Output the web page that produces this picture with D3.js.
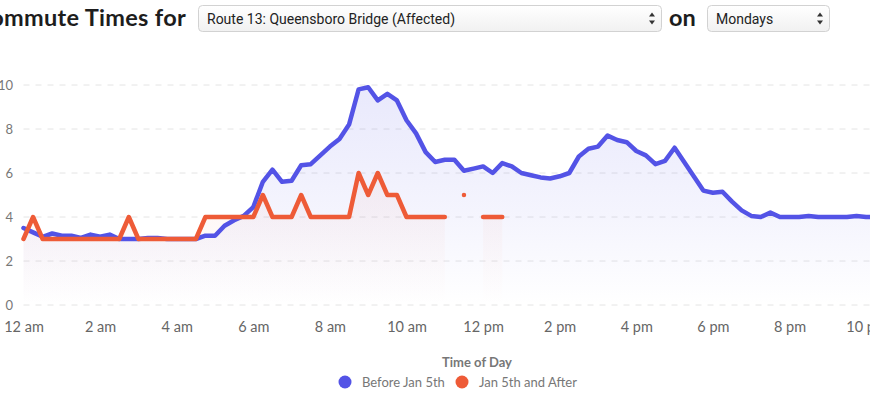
<!DOCTYPE html>
<html>
<head>
<meta charset="utf-8">
<script src="https://cdn.jsdelivr.net/npm/d3@7"></script>
<style>
  body { margin: 0; background: #fff; }
  svg { display: block; font-family: "Lato", "Open Sans", sans-serif; }
</style>
</head>
<body>
<div id="chart"></div>
<script>
// times are in quarter hours from midnight (0 .. 95)
const quarter_hours = d3.range(0, 96);

const before_values = [
  3.5, 3.3, 3.1, 3.25, 3.15, 3.15, 3.05, 3.2, 3.1, 3.2, 3.0, 3.0,
  3.0, 3.05, 3.05, 3.0, 3.0, 3.0, 3.0, 3.15, 3.15, 3.6, 3.85, 4.05,
  4.45, 5.6, 6.15, 5.6, 5.65, 6.35, 6.4, 6.8, 7.2, 7.55, 8.2, 9.8,
  9.9, 9.3, 9.6, 9.3, 8.4, 7.8, 6.95, 6.5, 6.6, 6.6, 6.1, 6.2,
  6.3, 6.0, 6.45, 6.3, 6.0, 5.9, 5.8, 5.75, 5.85, 6.0, 6.75, 7.1,
  7.2, 7.7, 7.5, 7.4, 7.0, 6.8, 6.4, 6.55, 7.15, 6.5, 5.85, 5.2,
  5.1, 5.15, 4.7, 4.3, 4.05, 4.0, 4.2, 4.0, 4.0, 4.0, 4.05, 4.0,
  4.0, 4.0, 4.0, 4.05, 4.0, 4.0, 4.0, 4.0, 4.0, 4.0, 4.0, 4.0
];

// null = no trips recorded in that quarter hour
const after_values = [
  3, 4, 3, 3, 3, 3, 3, 3, 3, 3, 3, 4,
  3, 3, 3, 3, 3, 3, 3, 4, 4, 4, 4, 4,
  4, 5, 4, 4, 4, 5, 4, 4, 4, 4, 4, 6,
  5, 6, 5, 5, 4, 4, 4, 4, 4, null, 5, null,
  4, 4, 4, null, null, null, null, null, null, null, null, null,
  null, null, null, null, null, null, null, null, null, null, null, null,
  null, null, null, null, null, null, null, null, null, null, null, null,
  null, null, null, null, null, null, null, null, null, null, null, null
];

const y_ticks = [0, 2, 4, 6, 8, 10];
const x_tick_hours = [0, 2, 4, 6, 8, 10, 12, 14, 16, 18, 20, 22];
const x_tick_labels = ["12 am", "2 am", "4 am", "6 am", "8 am", "10 am",
                       "12 pm", "2 pm", "4 pm", "6 pm", "8 pm", "10 pm"];

const route_options = ["Route 13: Queensboro Bridge (Affected)"];
const day_options = ["Mondays"];
const series_names = ["Before Jan 5th", "Jan 5th and After"];
const series_colors = ["#5353e6", "#ee5b37"];

const width = 870, height = 400;

let svg = d3.select("#chart").append("svg")
  .attr("width", width)
  .attr("height", height);

// header: title with two fake select boxes
function draw_select(x, w, label) {
  let g = svg.append("g").attr("transform", "translate(" + x + ",5)");
  g.append("rect")
    .attr("x", 0.5).attr("y", 0.5)
    .attr("width", w).attr("height", 26)
    .attr("rx", 4)
    .attr("fill", "url(#select_fill)")
    .attr("stroke", "#d2d2d2");
  g.append("text")
    .attr("x", 9).attr("y", 18.5)
    .attr("font-family", "'Liberation Sans Narrow', 'Roboto', sans-serif")
    .attr("font-size", 14)
    .attr("fill", "#222")
    .text(label);
  let ax = w - 9;
  g.append("path")
    .attr("d", "M" + (ax - 3) + ",11.5L" + ax + ",7.5L" + (ax + 3) + ",11.5Z" +
               "M" + (ax - 3) + ",15.5L" + ax + ",19.5L" + (ax + 3) + ",15.5Z")
    .attr("fill", "#333");
}

let defs = svg.append("defs");
let select_fill = defs.append("linearGradient")
  .attr("id", "select_fill").attr("x1", 0).attr("y1", 0).attr("x2", 0).attr("y2", 1);
select_fill.append("stop").attr("offset", 0).attr("stop-color", "#ffffff");
select_fill.append("stop").attr("offset", 1).attr("stop-color", "#f1f1f1");

const area_opacity = [[0.13, 0.06], [0.09, 0.04]];
series_colors.forEach((color, i) => {
  let grad = defs.append("linearGradient")
    .attr("id", "area_fill_" + i)
    .attr("gradientUnits", "userSpaceOnUse")
    .attr("x1", 0).attr("y1", 85).attr("x2", 0).attr("y2", 305);
  grad.append("stop").attr("offset", 0).attr("stop-color", color).attr("stop-opacity", area_opacity[i][0]);
  grad.append("stop").attr("offset", 0.6).attr("stop-color", color).attr("stop-opacity", area_opacity[i][1]);
  grad.append("stop").attr("offset", 1).attr("stop-color", color).attr("stop-opacity", 0);
});

svg.append("text")
  .attr("x", 186).attr("y", 26)
  .attr("text-anchor", "end")
  .attr("font-size", 23.5).attr("font-weight", "bold")
  .attr("letter-spacing", 0.3)
  .attr("fill", "#1d1d1d")
  .text("Commute Times for");

draw_select(198, 463, route_options[0]);

svg.append("text")
  .attr("x", 669).attr("y", 26)
  .attr("font-size", 23.5).attr("font-weight", "bold")
  .attr("fill", "#1d1d1d")
  .text("on");

draw_select(707, 122, day_options[0]);

// scales
let x = d3.scaleLinear().domain([0, 24]).range([23.5, 23.5 + 24 * 38.3]);
let y = d3.scaleLinear().domain([0, 10]).range([305, 85]);

// grid
svg.append("g")
  .selectAll("line")
  .data(y_ticks)
  .enter()
  .append("line")
  .attr("x1", x(0)).attr("x2", width)
  .attr("y1", (d) => y(d)).attr("y2", (d) => y(d))
  .attr("stroke", "#e4e4e4")
  .attr("stroke-dasharray", "6,6");

let y_axis = svg.append("g")
  .attr("transform", "translate(13,0)")
  .call(d3.axisLeft(y).tickValues(y_ticks).tickSize(0).tickPadding(0));
y_axis.select(".domain").remove();
y_axis.selectAll("text")
  .attr("font-family", "'Lato', sans-serif")
  .attr("font-size", 13).attr("fill", "#777");

let x_axis = svg.append("g")
  .attr("transform", "translate(0,318)")
  .call(d3.axisBottom(x).tickValues(x_tick_hours)
        .tickFormat((d, i) => x_tick_labels[i]).tickSize(0).tickPadding(4));
x_axis.select(".domain").remove();
x_axis.selectAll("text")
  .attr("font-family", "'Lato', sans-serif")
  .attr("font-size", 14.5).attr("fill", "#666");

// series
let series = [before_values, after_values].map((values) =>
  quarter_hours.map((q, i) => ({ hour: q / 4, value: values[i] })));

let area = d3.area()
  .defined((d) => d.value !== null)
  .x((d) => x(d.hour))
  .y0(y(0))
  .y1((d) => y(d.value));

let line = d3.line()
  .defined((d) => d.value !== null)
  .x((d) => x(d.hour))
  .y((d) => y(d.value));

series.forEach((points, i) => {
  svg.append("path")
    .datum(points)
    .attr("d", area)
    .attr("fill", "url(#area_fill_" + i + ")");
});

series.forEach((points, i) => {
  svg.append("path")
    .datum(points)
    .attr("d", line)
    .attr("fill", "none")
    .attr("stroke", series_colors[i])
    .attr("stroke-width", 4.5)
    .attr("stroke-linejoin", "round")
    .attr("stroke-linecap", "round");
});

// axis title + legend
svg.append("text")
  .attr("x", 477).attr("y", 367)
  .attr("text-anchor", "middle")
  .attr("font-size", 13).attr("font-weight", "bold")
  .attr("fill", "#777")
  .text("Time of Day");

let legend_x = [345, 462];
series_names.forEach((name, i) => {
  svg.append("circle")
    .attr("cx", legend_x[i]).attr("cy", 382)
    .attr("r", 6.5)
    .attr("fill", series_colors[i]);
  svg.append("text")
    .attr("x", legend_x[i] + 17).attr("y", 387)
    .attr("font-size", 13)
    .attr("fill", "#777")
    .text(name);
});
</script>
</body>
</html>
